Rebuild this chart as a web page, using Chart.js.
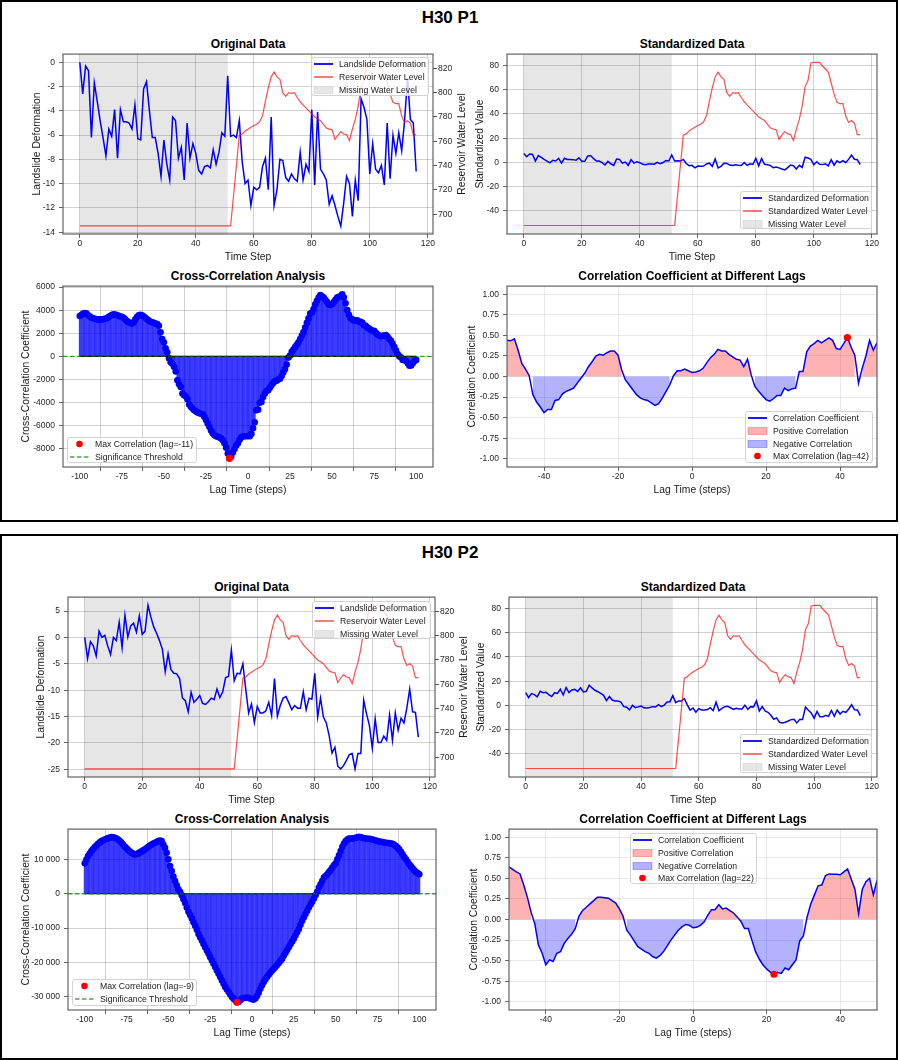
<!DOCTYPE html>
<html>
<head>
<meta charset="utf-8">
<script src="https://cdn.jsdelivr.net/npm/chart.js@4.4.1/dist/chart.umd.min.js"></script>
<style>
  body { margin: 0; background: #fff; font-family: "Liberation Sans", Arial, sans-serif; }
  #page { position: relative; width: 900px; height: 1060px; overflow: hidden; }
  .panel { position: absolute; border: 2px solid #000; box-sizing: border-box; }
  .sup { position: absolute; left: 0; width: 900px; text-align: center; font-weight: bold; font-size: 17px; line-height: 20px; color: #000; }
  .sub { position: absolute; text-align: center; font-weight: bold; font-size: 12px; line-height: 14px; color: #000; }
  canvas { position: absolute; }
  .legend { position: absolute; background: rgba(255,255,255,0.8); border: 1px solid #d3d3d3; border-radius: 3px; box-sizing: border-box; font-size: 8.7px; color: #222; }
  .legend svg { position: absolute; }
  .legend span { position: absolute; left: 27px; line-height: 12px; white-space: nowrap; }
  .ylab2 { position: absolute; font-size: 10.3px; white-space: nowrap; color: #1a1a1a; transform: translate(-50%, -50%) rotate(-90deg); }
</style>
</head>
<body>
<div id="page">
  <div class="panel" style="left:0;top:0;width:898px;height:522px"></div>
  <div class="panel" style="left:0;top:534px;width:898px;height:526px"></div>
  <div class="sup" style="top:8px">H30 P1</div>
  <div class="sup" style="top:543px">H30 P2</div>
</div>
<script>
// ---- data ----
const deformP1 = [
  0.0, -2.6, -0.3, -0.7, -6.2, -1.7, -3.2, -4.8, -6.2, -7.7,
  -5.5, -6.1, -3.9, -7.9, -3.9, -4.9, -4.9, -5.0, -5.5, -3.5,
  -6.3, -6.4, -2.2, -1.6, -4.0, -6.2, -6.2, -7.5, -9.4, -6.4,
  -8.4, -9.7, -4.5, -4.8, -7.9, -7.0, -9.7, -5.0, -7.9, -6.7,
  -7.5, -8.9, -9.2, -8.6, -8.5, -8.7, -7.2, -8.4, -7.4, -5.8,
  -6.1, -1.1, -6.1, -6.0, -6.2, -4.8, -8.2, -10.0, -9.7, -11.8,
  -10.3, -10.5, -10.3, -8.6, -7.9, -10.5, -4.5, -11.8, -10.5, -8.0,
  -8.1, -9.5, -9.8, -9.2, -9.6, -9.8, -7.4, -9.7, -8.4, -9.0,
  -3.9, -10.1, -4.1, -8.8, -9.2, -9.7, -11.7, -11.0, -11.8, -12.7,
  -13.5, -11.6, -9.4, -10.0, -12.7, -9.7, -11.4, -3.0, -3.7, -4.7,
  -9.2, -6.7, -8.8, -9.1, -8.5, -10.1, -5.0, -9.6, -6.0, -7.5,
  -5.8, -7.3, -4.8, -1.3, -4.7, -5.0, -9.0
];
const deformP2 = [
  0.0, -4.0, -0.8, -1.6, -3.5, 1.2, 0.0, 0.4, -1.6, -3.2,
  0.0, -0.6, 2.9, -1.9, 4.2, 0.1, 2.2, 2.7, 1.0, 4.1,
  0.6, 1.2, 6.1, 3.9, 2.0, 0.8, -0.6, -2.2, -6.5, -3.1,
  -6.1, -6.8, -6.9, -7.8, -11.5, -12.0, -14.1, -10.4, -12.3, -11.7,
  -11.0, -12.5, -12.7, -12.2, -11.5, -11.8, -9.8, -11.4, -10.3, -7.6,
  -7.4, -2.4, -8.2, -6.8, -6.9, -5.0, -9.8, -14.3, -12.6, -16.1,
  -13.1, -14.3, -14.3, -13.9, -12.3, -14.8, -7.8, -14.9, -12.9, -11.5,
  -11.2, -12.4, -13.7, -12.9, -13.4, -13.4, -10.3, -13.7, -11.5, -11.7,
  -6.8, -15.1, -11.5, -15.1, -16.2, -18.6, -21.9, -20.8, -24.4, -24.9,
  -24.3, -23.3, -22.2, -22.0, -24.9, -22.0, -22.0, -11.9, -14.5, -16.7,
  -21.0, -15.4, -19.9, -19.9, -18.7, -19.5, -14.7, -19.5, -14.3, -17.6,
  -15.3, -16.2, -13.4, -9.8, -14.1, -14.2, -18.9
];
const waterLevel = [
  690.5, 690.5, 690.5, 690.5, 690.5, 690.5, 690.5, 690.5, 690.5, 690.5,
  690.5, 690.5, 690.5, 690.5, 690.5, 690.5, 690.5, 690.5, 690.5, 690.5,
  690.5, 690.5, 690.5, 690.5, 690.5, 690.5, 690.5, 690.5, 690.5, 690.5,
  690.5, 690.5, 690.5, 690.5, 690.5, 690.5, 690.5, 690.5, 690.5, 690.5,
  690.5, 690.5, 690.5, 690.5, 690.5, 690.5, 690.5, 690.5, 690.5, 690.5,
  690.5, 690.5, 690.5, 715, 740, 765, 766, 768.5, 770, 771.5,
  773, 774, 776, 781, 793, 804, 813, 817, 813, 811,
  800, 797, 800, 799.5, 800, 796, 792.5, 790, 787.5, 785,
  782.5, 780, 778.5, 777, 774, 771, 770, 769.5, 761.5, 765,
  768, 766, 765.5, 760.5, 770, 778, 789, 805, 810, 824.5,
  825, 825, 825, 822, 819.5, 817, 808, 799, 792, 791,
  791, 781, 775.5, 777, 775, 765.5, 765.5
];
const stdDeformP1 = [
  7.3, 4.7, 7.0, 6.6, 1.1, 5.6, 4.1, 2.5, 1.1, -0.4,
  1.8, 1.2, 3.4, -0.6, 3.4, 2.4, 2.4, 2.3, 1.8, 3.8,
  1.0, 0.9, 5.1, 5.7, 3.3, 1.1, 1.1, -0.2, -2.1, 0.9,
  -1.1, -2.4, 2.8, 2.5, -0.6, 0.3, -2.4, 2.3, -0.6, 0.6,
  -0.2, -1.6, -1.9, -1.3, -1.2, -1.4, 0.1, -1.1, -0.1, 1.5,
  1.2, 6.2, 1.2, 1.3, 1.1, 2.5, -0.9, -2.7, -2.4, -4.5,
  -3.0, -3.2, -3.0, -1.3, -0.6, -3.2, 2.8, -4.5, -3.2, -0.7,
  -0.8, -2.2, -2.5, -1.9, -2.3, -2.5, -0.1, -2.4, -1.1, -1.7,
  3.4, -2.8, 3.2, -1.5, -1.9, -2.4, -4.4, -3.7, -4.5, -5.4,
  -6.2, -4.3, -2.1, -2.7, -5.4, -2.4, -4.1, 4.3, 3.6, 2.6,
  -1.9, 0.6, -1.5, -1.8, -1.2, -2.8, 2.3, -2.3, 1.3, -0.2,
  1.5, 0.0, 2.5, 6.0, 2.6, 2.3, -1.7
];
const stdDeformP2 = [
  10.5, 6.5, 9.7, 8.9, 7.0, 11.7, 10.5, 10.9, 8.9, 7.3,
  10.5, 9.9, 13.4, 8.6, 14.7, 10.6, 12.7, 13.2, 11.5, 14.6,
  11.1, 11.7, 16.6, 14.4, 12.5, 11.3, 9.9, 8.3, 4.0, 7.4,
  4.4, 3.7, 3.6, 2.7, -1.0, -1.5, -3.6, 0.1, -1.8, -1.2,
  -0.5, -2.0, -2.2, -1.7, -1.0, -1.3, 0.7, -0.9, 0.2, 2.9,
  3.1, 8.1, 2.3, 3.7, 3.6, 5.5, 0.7, -3.8, -2.1, -5.6,
  -2.6, -3.8, -3.8, -3.4, -1.8, -4.3, 2.7, -4.4, -2.4, -1.0,
  -0.7, -1.9, -3.2, -2.4, -2.9, -2.9, 0.2, -3.2, -1.0, -1.2,
  3.7, -4.6, -1.0, -4.6, -5.7, -8.1, -11.4, -10.3, -13.9, -14.4,
  -13.8, -12.8, -11.7, -11.5, -14.4, -11.5, -11.5, -1.4, -4.0, -6.2,
  -10.5, -4.9, -9.4, -9.4, -8.2, -9.0, -4.2, -9.0, -3.8, -7.1,
  -4.8, -5.7, -2.9, 0.7, -3.6, -3.7, -8.4
];
const stdWater = [
  -52, -52, -52, -52, -52, -52, -52, -52, -52, -52,
  -52, -52, -52, -52, -52, -52, -52, -52, -52, -52,
  -52, -52, -52, -52, -52, -52, -52, -52, -52, -52,
  -52, -52, -52, -52, -52, -52, -52, -52, -52, -52,
  -52, -52, -52, -52, -52, -52, -52, -52, -52, -52,
  -52, -52, -52, -27.5, -2.5, 22.5, 23.5, 26, 27.5, 29,
  30.5, 31.5, 33.5, 38.5, 50.5, 61.5, 70.5, 74.5, 70.5, 68.5,
  57.5, 54.5, 57.5, 57, 57.5, 53.5, 50, 47.5, 45, 42.5,
  40, 37.5, 36, 34.5, 31.5, 28.5, 27.5, 27, 19, 22.5,
  25.5, 23.5, 23, 18, 27.5, 35.5, 46.5, 62.5, 67.5, 82,
  82.5, 82.5, 82.5, 79.5, 77, 74.5, 65.5, 56.5, 49.5, 48.5,
  48.5, 38.5, 33, 34.5, 32.5, 23, 23
];
const missingStart = 0;
const missingEnd = 51;

// cross-correlation, lag -100 .. 100
const ccLagStart = -100;
const crossCorrP1 = [
  3500, 3600, 3700, 3750, 3700, 3550, 3450, 3350, 3300, 3250,
  3220, 3200, 3200, 3200, 3230, 3250, 3300, 3400, 3500, 3580,
  3650, 3620, 3580, 3520, 3450, 3420, 3350, 3200, 3050, 2950,
  2900, 2850, 2950, 3200, 3400, 3550, 3590, 3550, 3450, 3350,
  3220, 3100, 3000, 2950, 2900, 2850, 2800, 2650, 2080, 1500,
  1220, 700, 360, -150, -500, -640, -900, -1300, -2070, -2400,
  -2645, -3200, -3360, -3450, -3700, -4150, -4360, -4500, -4650, -4750,
  -4850, -4900, -4950, -5000, -5220, -5500, -5800, -6080, -6400, -6650,
  -6800, -6900, -6940, -7000, -7100, -7250, -7510, -7900, -8400, -8800,
  -8650, -8300, -8000, -7700, -7510, -7200, -7000, -6900, -6900, -6900,
  -6890, -6900, -6700, -6200, -5700, -4650, -4600, -4000, -3930, -3500,
  -3200, -3000, -2930, -2700, -2500, -2300, -2150, -2100, -2000, -1930,
  -1700, -1400, -1100, -700, -100, 75, 400, 600, 800, 1000,
  1220, 1500, 1800, 2100, 2500, 2900, 3300, 3700, 3790, 4100,
  4500, 4800, 5100, 5310, 5200, 5100, 4900, 4700, 4500, 4450,
  4510, 4700, 4900, 5100, 5150, 5200, 5370, 5100, 4600, 4000,
  3600, 3300, 3200, 3100, 3100, 3130, 3000, 3000, 2900, 2700,
  2650, 2500, 2400, 2300, 2200, 2220, 2050, 1900, 1800, 1750,
  1790, 1800, 1850, 1700, 1500, 1360, 1100, 800, 500, 200,
  0, -100, -300, -300, -400, -600, -800, -780, -600, -400,
  -300
];
const crossCorrP2 = [
  8840, 9950, 10970, 11700, 12400, 13000, 13570, 14050, 14530, 14950,
  15300, 15550, 15790, 16000, 16170, 16330, 16460, 16400, 16270, 16050,
  15790, 15350, 14820, 14250, 13670, 13200, 12700, 12300, 11930, 11650,
  11450, 11550, 11740, 12030, 12320, 12600, 12900, 13300, 13670, 14000,
  14340, 14600, 14820, 15050, 15300, 15500, 15300, 14340, 13380, 11930,
  10000, 8070, 6630, 4990, 3730, 2480, 1330, 550, -410, -1570,
  -2720, -3980, -5230, -6190, -7160, -8310, -9280, -10430, -11690, -12650,
  -13620, -14580, -15540, -16500, -17470, -18430, -19400, -20360, -21330, -22300,
  -23260, -24220, -25190, -26150, -27120, -27850, -28560, -29300, -30010, -30500,
  -30970, -31550, -31450, -30970, -30490, -30300, -30300, -30200, -30300, -30490,
  -30680, -30780, -30490, -29720, -28750, -27600, -26630, -25670, -24900, -24230,
  -23550, -22900, -22300, -21800, -21330, -20750, -20170, -19550, -18920, -18050,
  -17190, -16350, -15540, -14700, -13900, -13050, -12170, -11200, -10240, -9000,
  -7830, -6850, -5900, -4950, -3980, -3150, -2340, -1370, -410, 550,
  1810, 2780, 3730, 4700, 5180, 5660, 6330, 6920, 7590, 8270,
  8840, 10000, 11160, 12400, 13670, 14630, 15300, 15790, 16070, 16070,
  16070, 16150, 16270, 16400, 16560, 16400, 16270, 16150, 16070, 16000,
  15980, 15900, 15790, 15650, 15500, 15350, 15210, 15100, 15020, 14900,
  14820, 14770, 14720, 14620, 14530, 14200, 13860, 13400, 12900, 12200,
  11450, 10700, 10000, 9300, 8560, 7950, 7400, 6850, 6330, 6000,
  5660
];
const ccMaxLagP1 = -11;
const ccMaxLagP2 = -9;
const threshold = 0;

// correlation coefficient, lag -50 .. 50
const coefLagStart = -50;
const corrCoefP1 = [
  0.44, 0.435, 0.46, 0.32, 0.16, 0.09, 0.01, -0.22, -0.31, -0.37,
  -0.44, -0.40, -0.40, -0.29, -0.28, -0.21, -0.18, -0.16, -0.14, -0.08,
  -0.02, 0.04, 0.12, 0.18, 0.25, 0.27, 0.26, 0.29, 0.31, 0.31,
  0.26, 0.08, -0.04, -0.10, -0.16, -0.22, -0.26, -0.28, -0.29, -0.32,
  -0.35, -0.33, -0.26, -0.18, -0.10, 0.01, 0.07, 0.07, 0.09, 0.07,
  0.05, 0.055, 0.07, 0.10, 0.17, 0.23, 0.27, 0.33, 0.31, 0.31,
  0.27, 0.24, 0.21, 0.20, 0.12, 0.21, 0.02, -0.12, -0.18, -0.23,
  -0.28, -0.30, -0.27, -0.23, -0.23, -0.14, -0.17, -0.15, -0.14, 0.06,
  0.06, 0.30, 0.37, 0.40, 0.44, 0.41, 0.44, 0.47, 0.44, 0.34,
  0.33, 0.40, 0.475, 0.36, 0.26, -0.08, 0.10, 0.25, 0.44, 0.32,
  0.41
];
const corrCoefP2 = [
  0.64, 0.61, 0.58, 0.555, 0.42, 0.27, 0.09, -0.05, -0.31, -0.41,
  -0.55, -0.49, -0.51, -0.41, -0.39, -0.29, -0.23, -0.18, -0.11, 0.04,
  0.11, 0.15, 0.19, 0.23, 0.27, 0.27, 0.265, 0.26, 0.23, 0.20,
  0.13, 0.04, -0.13, -0.19, -0.26, -0.33, -0.36, -0.39, -0.41, -0.45,
  -0.47, -0.44, -0.39, -0.32, -0.25, -0.19, -0.13, -0.09, -0.06, -0.07,
  -0.10, -0.095, -0.07, -0.03, 0.05, 0.12, 0.12, 0.18, 0.13, 0.14,
  0.11, 0.08, 0.03, -0.02, -0.11, -0.11, -0.25, -0.39, -0.48, -0.55,
  -0.60, -0.64, -0.665, -0.645, -0.655, -0.59, -0.61, -0.55, -0.49, -0.26,
  -0.20, 0.03, 0.19, 0.30, 0.41, 0.42, 0.535, 0.555, 0.55, 0.55,
  0.545, 0.58, 0.615, 0.49, 0.37, 0.07, 0.37, 0.46, 0.50, 0.30,
  0.475
];
const coefMaxLagP1 = 42;
const coefMaxLagP2 = 22;

// tick labels
const timeTicks = [0, 20, 40, 60, 80, 100, 120];
const deformTicksP1 = [-14, -12, -10, -8, -6, -4, -2, 0];
const deformTicksP2 = [-25, -20, -15, -10, -5, 0, 5];
const waterTicks = [700, 720, 740, 760, 780, 800, 820];
const stdTicks = [-40, -20, 0, 20, 40, 60, 80];
const ccLagTicks = [-100, -75, -50, -25, 0, 25, 50, 75, 100];
const ccTicksP1 = [-8000, -6000, -4000, -2000, 0, 2000, 4000, 6000];
const ccTicksP2 = [-30000, -20000, -10000, 0, 10000];
const coefLagTicks = [-40, -20, 0, 20, 40];
const coefTicks = [-1, -0.75, -0.5, -0.25, 0, 0.25, 0.5, 0.75, 1];

// ---- drawing ----
Chart.defaults.font.family = "'Liberation Sans', Arial, sans-serif";
Chart.defaults.color = '#262626';
Chart.defaults.animation = false;
Chart.defaults.events = [];

const page = document.getElementById('page');
const timeSteps = deformP1.map((_, i) => i);
const ccLags = crossCorrP1.map((_, i) => ccLagStart + i);
const coefLags = corrCoefP1.map((_, i) => coefLagStart + i);

const GRID_DARK = 'rgba(100,100,100,0.33)';
const GRID_LIGHT = 'rgba(150,150,150,0.25)';

function pts(xs, ys) { return ys.map((y, i) => ({ x: xs[i], y })); }
function plain(v) { return String(v); }
function spaced(v) {
  const s = String(Math.abs(v)).replace(/\B(?=(\d{3})+(?!\d))/g, ' ');
  return (v < 0 ? '-' : '') + s;
}
function fixed2(v) { return Number(v).toFixed(2); }

const decor = {
  id: 'decor',
  beforeDraw(chart, args, o) {
    if (o.shadeFrom === undefined || o.shadeFrom === null) return;
    const { ctx, chartArea: a, scales } = chart;
    const x0 = scales.x.getPixelForValue(o.shadeFrom);
    const x1 = scales.x.getPixelForValue(o.shadeTo);
    ctx.save();
    ctx.fillStyle = 'rgba(128,128,128,0.2)';
    ctx.fillRect(x0, a.top, x1 - x0, a.bottom - a.top);
    ctx.restore();
  },
  afterDatasetsDraw(chart, args, o) {
    if (o.hline === undefined || o.hline === null) return;
    const { ctx, chartArea: a, scales } = chart;
    const y = scales.y.getPixelForValue(o.hline);
    ctx.save();
    ctx.strokeStyle = 'rgba(0,128,0,0.7)';
    ctx.lineWidth = 1.3;
    ctx.setLineDash([4.5, 2.5]);
    ctx.beginPath();
    ctx.moveTo(a.left, y);
    ctx.lineTo(a.right, y);
    ctx.stroke();
    ctx.restore();
  },
  afterDraw(chart) {
    const { ctx, chartArea: a } = chart;
    ctx.save();
    ctx.strokeStyle = '#555';
    ctx.lineWidth = 1.1;
    ctx.strokeRect(a.left, a.top, a.right - a.left, a.bottom - a.top);
    ctx.restore();
  }
};

function xAxis(min, max, ticks, title, pad, grid) {
  return {
    type: 'linear', position: 'bottom', min, max, offset: false,
    afterBuildTicks: s => { s.ticks = ticks.map(v => ({ value: v })); },
    afterFit: s => { s.height = pad.b; },
    grid: { color: grid, lineWidth: 0.9, tickColor: '#555', tickLength: 4 },
    border: { display: false },
    ticks: { font: { size: 8.5 }, padding: 1, maxRotation: 0, autoSkip: false, callback: plain },
    title: { display: true, text: title, font: { size: 10.3 }, padding: 0, color: '#1a1a1a' }
  };
}
function yAxis(min, max, ticks, title, pad, grid, fmt) {
  return {
    type: 'linear', position: 'left', min, max,
    afterBuildTicks: s => { s.ticks = ticks.map(v => ({ value: v })); },
    afterFit: s => { s.width = pad.l; },
    grid: { color: grid, lineWidth: 0.9, tickColor: '#555', tickLength: 4 },
    border: { display: false },
    ticks: { font: { size: 8.5 }, padding: 4, autoSkip: false, callback: fmt || plain },
    title: { display: true, text: title, font: { size: 10.3 }, padding: 0, color: '#1a1a1a' }
  };
}
function y2Axis(min, max, ticks, pad) {
  return {
    type: 'linear', position: 'right', min, max,
    afterBuildTicks: s => { s.ticks = ticks.map(v => ({ value: v })); },
    afterFit: s => { s.width = pad.r; },
    grid: { drawOnChartArea: false, color: 'rgba(0,0,0,0)', tickColor: '#555', tickLength: 4 },
    border: { display: false },
    ticks: { font: { size: 8.5 }, padding: 1, autoSkip: false, callback: plain }
  };
}

function makeChart(box, pad, scales, datasets, decorOpts) {
  const cv = document.createElement('canvas');
  const w = box.r - box.l + pad.l + pad.r;
  const h = box.b - box.t + pad.t + pad.b;
  cv.width = w; cv.height = h;
  cv.style.left = (box.l - pad.l) + 'px';
  cv.style.top = (box.t - pad.t) + 'px';
  cv.style.width = w + 'px';
  cv.style.height = h + 'px';
  page.appendChild(cv);
  return new Chart(cv, {
    type: 'line',
    data: { datasets },
    options: {
      responsive: false,
      maintainAspectRatio: false,
      layout: { padding: { top: pad.t, left: 0, bottom: 0, right: scales.y2 ? 0 : pad.r } },
      scales,
      plugins: { legend: { display: false }, tooltip: { enabled: false }, decor: decorOpts || {} }
    },
    plugins: [decor]
  });
}

function subTitle(box, text) {
  const d = document.createElement('div');
  d.className = 'sub';
  d.style.left = box.l + 'px';
  d.style.width = (box.r - box.l) + 'px';
  d.style.top = (box.t - 16) + 'px';
  d.textContent = text;
  page.appendChild(d);
}

function swatch(it) {
  if (it.kind === 'line') return `<line x1="1" y1="6" x2="20" y2="6" stroke="${it.color}" stroke-width="${it.width}"/>`;
  if (it.kind === 'dash') return `<line x1="1" y1="6" x2="20" y2="6" stroke="${it.color}" stroke-width="${it.width}" stroke-dasharray="4.5 2.5"/>`;
  if (it.kind === 'patch') return `<rect x="1" y="2.5" width="19" height="7" fill="${it.color}" stroke="${it.edge}" stroke-width="0.8"/>`;
  return `<circle cx="10.5" cy="6" r="3.3" fill="${it.color}"/>`;
}
function legendBox(x, y, w, h, items) {
  const d = document.createElement('div');
  d.className = 'legend';
  d.style.cssText = `left:${x}px;top:${y}px;width:${w}px;height:${h}px`;
  items.forEach((it, i) => {
    const top = 0.3 + i * 12.6;
    d.insertAdjacentHTML('beforeend',
      `<svg width="22" height="12" style="left:1px;top:${top}px">${swatch(it)}</svg>` +
      `<span style="top:${top}px">${it.text}</span>`);
  });
  page.appendChild(d);
}
function rightLabel(x, y, text) {
  const d = document.createElement('div');
  d.className = 'ylab2';
  d.style.left = x + 'px';
  d.style.top = y + 'px';
  d.textContent = text;
  page.appendChild(d);
}

const LINE_BLUE = { kind: 'line', color: 'blue', width: 1.8 };
const LINE_RED = { kind: 'line', color: 'rgba(255,0,0,0.7)', width: 1.5 };
const PATCH_GRAY = { kind: 'patch', color: 'rgba(128,128,128,0.2)', edge: 'rgba(128,128,128,0.2)' };

function originalChart(box, pad, deform, yMin, yMax, yTicks) {
  subTitle(box, 'Original Data');
  makeChart(box, pad, {
    x: xAxis(-5.8, 121.8, timeTicks, 'Time Step', pad, GRID_DARK),
    y: yAxis(yMin, yMax, yTicks, 'Landslide Deformation', pad, GRID_DARK),
    y2: y2Axis(683.8, 831.7, waterTicks, pad)
  }, [
    { label: 'Reservoir Water Level', data: pts(timeSteps, waterLevel), yAxisID: 'y2',
      borderColor: 'rgba(255,0,0,0.7)', borderWidth: 1.2, pointRadius: 0, tension: 0, fill: false },
    { label: 'Landslide Deformation', data: pts(timeSteps, deform), yAxisID: 'y',
      borderColor: 'blue', borderWidth: 1.5, pointRadius: 0, tension: 0, fill: false }
  ], { shadeFrom: missingStart, shadeTo: missingEnd });
}

function standardChart(box, pad, stdDeform) {
  subTitle(box, 'Standardized Data');
  makeChart(box, pad, {
    x: xAxis(-5.8, 121.8, timeTicks, 'Time Step', pad, GRID_DARK),
    y: yAxis(-59, 89.3, stdTicks, 'Standardized Value', pad, GRID_DARK)
  }, [
    { label: 'Standardized Water Level', data: pts(timeSteps, stdWater),
      borderColor: 'rgba(255,0,0,0.7)', borderWidth: 1.2, pointRadius: 0, tension: 0, fill: false },
    { label: 'Standardized Deformation', data: pts(timeSteps, stdDeform),
      borderColor: 'blue', borderWidth: 1.5, pointRadius: 0, tension: 0, fill: false }
  ], { shadeFrom: missingStart, shadeTo: missingEnd });
}

function crossChart(box, pad, cc, maxLag, yMin, yMax, yTicks, fmt) {
  subTitle(box, 'Cross-Correlation Analysis');
  makeChart(box, pad, {
    x: xAxis(-110, 110, ccLagTicks, 'Lag Time (steps)', pad, GRID_DARK),
    y: yAxis(yMin, yMax, yTicks, 'Cross-Correlation Coefficient', pad, GRID_DARK, fmt)
  }, [
    { type: 'line', label: 'Max Correlation', data: [{ x: maxLag, y: cc[maxLag - ccLagStart] }],
      showLine: false, pointRadius: 3.6, pointBackgroundColor: 'red', pointBorderWidth: 0 },
    { type: 'line', label: 'baseline', data: [{ x: ccLags[0], y: threshold }, { x: ccLags[ccLags.length - 1], y: threshold }],
      borderColor: '#000', borderWidth: 1.2, pointRadius: 0, fill: false },
    { type: 'line', label: 'markers', data: pts(ccLags, cc),
      showLine: false, pointRadius: 3.3, pointBackgroundColor: 'blue', pointBorderWidth: 0 },
    { type: 'bar', label: 'stems', data: pts(ccLags, cc),
      backgroundColor: 'rgba(0,0,255,0.78)', borderWidth: 0, barThickness: 1.3 }
  ], { hline: threshold });
}

function coefChart(box, pad, coef, maxLag) {
  subTitle(box, 'Correlation Coefficient at Different Lags');
  makeChart(box, pad, {
    x: xAxis(-50, 50, coefLagTicks, 'Lag Time (steps)', pad, GRID_LIGHT),
    y: yAxis(-1.1, 1.1, coefTicks, 'Correlation Coefficient', pad, GRID_LIGHT, fixed2)
  }, [
    { label: 'Max Correlation', data: [{ x: maxLag, y: coef[maxLag - coefLagStart] }],
      showLine: false, pointRadius: 3.6, pointBackgroundColor: 'red', pointBorderWidth: 0 },
    { label: 'Correlation Coefficient', data: pts(coefLags, coef),
      borderColor: 'blue', borderWidth: 1.5, pointRadius: 0, tension: 0, fill: false },
    { label: 'Positive Correlation', data: pts(coefLags, coef.map(v => (v > 0 ? v : null))),
      borderWidth: 0, borderColor: 'rgba(0,0,0,0)', backgroundColor: 'rgba(255,0,0,0.3)',
      pointRadius: 0, tension: 0, fill: 'origin', spanGaps: false },
    { label: 'Negative Correlation', data: pts(coefLags, coef.map(v => (v < 0 ? v : null))),
      borderWidth: 0, borderColor: 'rgba(0,0,0,0)', backgroundColor: 'rgba(0,0,255,0.3)',
      pointRadius: 0, tension: 0, fill: 'origin', spanGaps: false }
  ], {});
}

// ---- H30 P1 ----
const b1 = { l: 63, t: 53, r: 433, b: 234 };
originalChart(b1, { l: 32, r: 24, t: 8, b: 29 }, deformP1, -14.15, 0.68, deformTicksP1);
rightLabel(461, 143.5, 'Reservoir Water Level');
legendBox(311, 57, 118, 39, [
  Object.assign({ text: 'Landslide Deformation' }, LINE_BLUE),
  Object.assign({ text: 'Reservoir Water Level' }, LINE_RED),
  Object.assign({ text: 'Missing Water Level' }, PATCH_GRAY)
]);

const b2 = { l: 507, t: 53, r: 877, b: 234 };
standardChart(b2, { l: 33, r: 12, t: 8, b: 29 }, stdDeformP1);
legendBox(740, 191, 132, 38, [
  Object.assign({ text: 'Standardized Deformation' }, LINE_BLUE),
  Object.assign({ text: 'Standardized Water Level' }, LINE_RED),
  Object.assign({ text: 'Missing Water Level' }, PATCH_GRAY)
]);

const b3 = { l: 63, t: 285, r: 433, b: 467 };
crossChart(b3, { l: 43, r: 12, t: 8, b: 29 }, crossCorrP1, ccMaxLagP1, -9560, 6080, ccTicksP1, plain);
legendBox(67, 437, 130, 26, [
  { kind: 'dot', color: 'red', text: `Max Correlation (lag=${ccMaxLagP1})` },
  { kind: 'dash', color: 'rgba(0,128,0,0.7)', width: 1.4, text: 'Significance Threshold' }
]);

const b4 = { l: 507, t: 285, r: 877, b: 467 };
coefChart(b4, { l: 41, r: 12, t: 8, b: 29 }, corrCoefP1, coefMaxLagP1);
legendBox(745, 411, 128, 52, [
  Object.assign({ text: 'Correlation Coefficient' }, LINE_BLUE),
  { kind: 'patch', color: 'rgba(255,0,0,0.3)', edge: 'rgba(255,0,0,0.35)', text: 'Positive Correlation' },
  { kind: 'patch', color: 'rgba(0,0,255,0.3)', edge: 'rgba(0,0,255,0.35)', text: 'Negative Correlation' },
  { kind: 'dot', color: 'red', text: `Max Correlation (lag=${coefMaxLagP1})` }
]);

// ---- H30 P2 ----
const b5 = { l: 68, t: 596, r: 435, b: 777 };
originalChart(b5, { l: 33, r: 24, t: 8, b: 29 }, deformP2, -26.45, 7.65, deformTicksP2);
rightLabel(463, 686.5, 'Reservoir Water Level');
legendBox(312, 601, 119, 38, [
  Object.assign({ text: 'Landslide Deformation' }, LINE_BLUE),
  Object.assign({ text: 'Reservoir Water Level' }, LINE_RED),
  Object.assign({ text: 'Missing Water Level' }, PATCH_GRAY)
]);

const b6 = { l: 509, t: 596, r: 877, b: 777 };
standardChart(b6, { l: 34, r: 12, t: 8, b: 29 }, stdDeformP2);
legendBox(740, 734, 132, 39, [
  Object.assign({ text: 'Standardized Deformation' }, LINE_BLUE),
  Object.assign({ text: 'Standardized Water Level' }, LINE_RED),
  Object.assign({ text: 'Missing Water Level' }, PATCH_GRAY)
]);

const b7 = { l: 68, t: 828, r: 436, b: 1010 };
crossChart(b7, { l: 48, r: 12, t: 8, b: 29 }, crossCorrP2, ccMaxLagP2, -33800, 18800, ccTicksP2, spaced);
legendBox(72, 979, 125, 27, [
  { kind: 'dot', color: 'red', text: `Max Correlation (lag=${ccMaxLagP2})` },
  { kind: 'dash', color: 'rgba(0,128,0,0.7)', width: 1.4, text: 'Significance Threshold' }
]);

const b8 = { l: 509, t: 828, r: 877, b: 1010 };
coefChart(b8, { l: 41, r: 12, t: 8, b: 29 }, corrCoefP2, coefMaxLagP2);
legendBox(630, 833, 127, 51, [
  Object.assign({ text: 'Correlation Coefficient' }, LINE_BLUE),
  { kind: 'patch', color: 'rgba(255,0,0,0.3)', edge: 'rgba(255,0,0,0.35)', text: 'Positive Correlation' },
  { kind: 'patch', color: 'rgba(0,0,255,0.3)', edge: 'rgba(0,0,255,0.35)', text: 'Negative Correlation' },
  { kind: 'dot', color: 'red', text: `Max Correlation (lag=${coefMaxLagP2})` }
]);
</script>
</body>
</html>
